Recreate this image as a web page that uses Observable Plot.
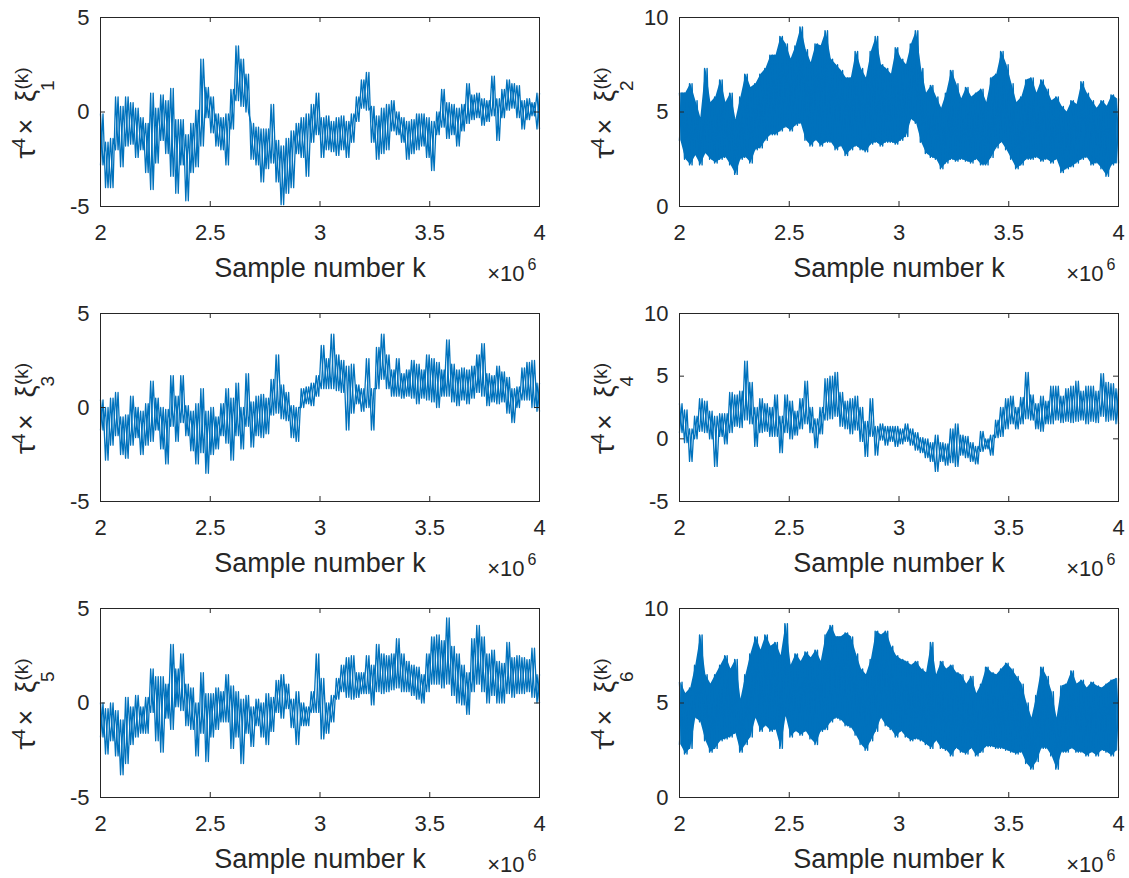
<!DOCTYPE html>
<html><head><meta charset="utf-8">
<script src="https://cdn.jsdelivr.net/npm/d3@7"></script>
<script src="https://cdn.jsdelivr.net/npm/@observablehq/plot@0.6"></script>
<style>
body{margin:0;background:#fff;}
#fig{position:relative;width:1129px;height:878px;background:#fff;}
#fig svg{position:absolute;}
</style></head><body><div id="fig"></div>
<script>
// Sample range (k) and tick values
const sampleStart = 2e6, sampleEnd = 4e6;
const xTicks = [2e6, 2.5e6, 3e6, 3.5e6, 4e6];
const xLabel = "Sample number k";
const xExponent = ["×10", "6"];

// Per-bin upper / lower extremes (88 bins from k=2e6 to 4e6)
const xi1Hi = [-0.1,-1.6,-1.4,0.8,0.3,0.8,0.5,0.2,-0.3,-0.6, 1.0,0.2,0.9,0.6,1.25,-0.4,-0.4,-1.2,-0.6,0.1, 2.8,1.3,0.8,-0.1,-0.3,-0.1,1.2,3.5,2.8,2.0, -0.6,-0.8,-0.9,-0.9,0.4,-1.5,-1.8,-1.4,-1.0,-0.6, -0.3,-0.1,0.4,1.0,-0.3,-0.2,-0.5,-0.3,-0.2,-0.5, -0.1,0.8,1.7,2.1,0.3,-0.2,0.2,0.4,0.6,0.0, -0.3,-0.5,-0.4,-0.1,-0.1,-0.3,-0.5,0.0,1.2,0.5, 0.4,0.2,0.4,1.5,0.9,1.0,0.7,0.6,1.9,0.7, 1.2,1.7,1.5,1.4,0.6,0.7,0.5,1.0];
const xi1Lo = [-2.8,-4.0,-4.0,-2.0,-2.9,-1.8,-1.7,-2.4,-2.0,-3.2, -4.1,-2.7,-1.5,-2.2,-3.4,-4.3,-2.8,-4.7,-3.2,-2.9, -1.8,-0.3,-1.1,-1.8,-2.0,-2.8,-0.9,0.6,0.3,0.0, -2.5,-2.8,-3.7,-3.0,-2.7,-3.7,-4.9,-4.3,-4.0,-2.2, -2.4,-3.4,-1.6,-1.2,-2.4,-2.0,-2.1,-2.3,-2.0,-2.4, -1.6,-0.5,0.2,0.1,-1.6,-2.5,-2.2,-2.0,-1.0,-1.2, -1.6,-2.5,-2.2,-2.0,-1.8,-2.4,-3.1,-1.2,-0.8,-1.4, -1.2,-1.8,-1.0,-0.6,-0.4,-0.3,-0.7,-0.5,-0.2,-1.5, -0.3,0.1,0.2,-0.3,-0.9,-0.4,-0.2,-0.9];

const xi2Hi = [6.0,6.0,6.5,5.6,4.7,7.3,5.5,5.8,6.7,5.5, 6.0,4.6,5.8,7.0,6.3,6.5,7.0,7.3,8.0,8.0, 9.0,8.6,7.8,8.5,9.5,8.3,7.6,8.6,8.5,9.3, 7.8,7.5,7.2,6.8,6.8,8.2,7.3,6.8,8.2,9.0, 7.5,7.3,7.0,8.4,7.8,7.5,8.6,9.3,7.3,6.0, 6.4,5.8,5.2,6.0,7.2,6.5,5.7,6.3,5.8,6.0, 6.2,5.5,6.8,7.0,8.2,7.5,6.5,5.5,5.8,6.7, 6.8,6.0,6.7,6.2,5.6,5.8,5.3,5.0,5.6,5.4, 6.6,6.0,5.6,5.2,5.6,5.3,5.9,5.7];
const xi2Lo = [3.5,2.5,2.2,2.7,2.2,2.8,2.5,2.3,2.5,2.6, 2.2,1.7,2.5,2.6,2.3,3.0,3.1,3.5,3.8,3.8, 4.0,4.2,4.0,4.3,4.4,3.5,3.2,3.5,3.2,3.4, 3.4,3.0,3.2,2.7,3.0,3.2,3.0,2.9,3.3,3.4, 3.2,3.4,3.4,3.3,3.5,3.7,4.6,4.4,3.4,2.8, 2.6,2.5,2.0,2.3,2.5,2.4,2.5,2.4,2.3,2.5, 2.2,2.2,2.6,3.1,3.4,3.0,2.5,2.0,2.2,2.5, 2.5,2.6,2.4,2.5,2.3,2.5,1.8,2.0,2.1,2.3, 2.5,2.6,2.2,2.3,2.0,1.6,2.2,2.3];

const xi3Hi = [0.4,0.0,0.5,0.8,-0.5,-0.4,0.6,0.0,-0.2,0.2, 1.4,0.5,0.0,-0.1,1.7,0.6,1.7,0.1,-0.2,0.2, 1.0,-0.2,0.0,-0.5,0.2,1.0,0.5,1.3,0.0,1.8, 0.3,0.6,0.7,0.5,1.5,2.8,1.2,0.8,0.1,0.0, 1.0,1.1,1.3,1.7,3.3,2.6,3.9,2.8,2.5,2.2, 2.3,1.2,1.0,2.6,1.0,3.2,3.9,2.8,2.0,2.6, 1.8,2.0,2.5,2.3,2.0,2.8,2.6,2.4,2.0,3.6, 2.3,2.0,2.1,2.0,2.2,2.8,3.4,1.8,1.7,2.2, 1.9,1.6,1.0,1.1,2.1,2.4,2.5,1.3];
const xi3Lo = [-1.2,-2.8,-2.0,-1.5,-2.5,-2.7,-2.0,-1.6,-2.5,-2.0, -1.8,-1.2,-2.2,-3.0,-1.0,-1.8,-0.8,-1.5,-2.3,-3.0, -2.4,-3.5,-2.5,-2.2,-1.5,-1.9,-2.8,-1.5,-2.2,-1.0, -2.1,-1.5,-1.6,-1.4,-0.4,-0.3,-0.6,-0.7,-1.6,-1.8, 0.0,0.2,0.1,0.6,1.0,1.0,1.0,0.9,0.8,-1.2, -0.3,0.2,-0.2,0.0,-1.2,1.0,1.5,1.0,0.6,0.6, 0.5,0.6,0.5,0.2,0.5,0.4,0.3,0.0,0.6,0.6, 0.3,0.1,0.4,0.2,0.5,0.8,0.6,0.1,0.3,0.2, 0.3,-0.3,-0.8,0.0,0.4,0.4,0.0,-0.2];

const xi4Hi = [2.8,2.3,0.8,1.8,3.2,3.0,2.2,1.8,2.0,2.0, 3.7,3.5,3.8,6.2,4.5,2.5,3.2,2.8,2.5,3.5, 1.8,3.5,3.0,2.2,3.2,4.6,2.5,1.6,2.5,4.8, 5.0,5.3,3.7,3.0,3.2,3.4,2.5,1.4,3.2,1.0, 1.2,1.0,1.0,1.0,0.8,1.2,0.8,0.5,0.1,0.0, -0.3,0.3,-0.3,-0.4,0.8,1.2,0.3,0.2,-0.3,-0.6, 0.6,0.0,0.3,1.5,2.5,3.2,3.4,2.5,3.3,5.3, 3.5,2.8,3.4,3.0,4.2,4.2,3.4,4.0,4.2,4.6, 3.8,4.2,4.2,3.8,5.2,4.5,4.4,4.0];
const xi4Lo = [0.5,-0.3,-1.8,0.0,0.6,0.5,0.0,-2.2,0.2,-0.4, 0.5,1.0,0.9,1.5,1.2,-0.6,0.5,0.6,0.2,0.2, -1.1,0.5,0.0,0.3,0.8,1.2,0.5,-0.7,0.4,1.5, 1.6,1.8,1.0,0.8,0.4,0.7,-0.2,-1.4,0.2,-1.3, -0.1,-0.5,-0.2,-0.6,-0.4,-0.2,-0.5,-0.9,-1.1,-1.5, -1.8,-2.6,-1.8,-2.1,-1.9,-2.2,-1.3,-1.5,-1.8,-2.0, -1.0,-0.8,-1.3,0.1,0.2,0.8,1.2,0.8,1.2,1.6, 1.5,0.8,0.6,1.2,1.2,1.5,1.3,1.4,1.3,1.4, 1.5,1.2,1.4,1.3,1.8,1.4,1.5,1.2];

const xi5Hi = [0.0,-0.3,0.0,-0.4,-0.9,0.3,-0.2,0.4,-0.2,0.3, 1.8,1.4,1.4,1.0,3.1,1.8,2.6,1.0,0.8,0.0, 1.6,0.5,0.5,0.8,0.6,1.5,0.9,0.6,0.2,0.4, -0.2,0.2,0.0,0.5,0.3,1.2,1.5,1.0,0.2,0.6, 0.0,-0.2,0.6,2.6,1.3,0.0,0.4,1.3,2.0,2.4, 2.5,1.6,1.6,2.5,2.0,3.1,2.6,2.5,2.6,3.4, 2.6,2.2,2.0,1.9,1.5,2.6,3.5,3.6,3.3,4.5, 3.0,2.6,2.0,1.6,3.4,4.1,3.5,2.6,2.8,2.2, 2.1,3.2,2.4,2.5,2.4,2.3,2.9,1.5];
const xi5Lo = [-1.8,-2.7,-2.0,-2.8,-3.8,-3.2,-2.2,-1.8,-1.6,-1.6, -0.5,-2.0,-2.6,-0.8,-1.4,-0.2,-0.4,-1.2,-1.4,-2.8, -1.6,-3.1,-1.8,-1.4,-1.0,-1.0,-2.4,-1.8,-3.2,-1.6, -2.3,-1.2,-1.8,-2.2,-1.5,-0.5,-0.8,-0.3,-1.3,-2.2, -1.2,-1.2,-0.5,-0.5,-1.9,-1.6,-1.0,0.2,0.6,0.3, 0.2,0.3,0.5,0.5,-0.1,0.6,0.5,0.6,0.7,0.8, 0.6,0.6,0.4,0.2,0.0,0.6,1.0,1.0,0.8,1.0, 0.4,0.0,-0.1,-0.6,0.6,1.0,0.6,0.0,0.4,0.0, 0.0,0.5,0.3,0.5,0.5,0.6,0.3,0.0];

const xi6Hi = [6.1,5.5,5.8,7.0,8.6,6.5,6.0,6.5,7.0,7.5, 6.8,7.3,5.2,6.5,7.6,8.5,7.8,8.6,8.0,8.2, 7.5,9.2,7.0,7.6,7.2,7.7,7.4,7.8,7.2,8.6, 9.1,8.5,8.5,8.7,8.5,7.6,6.8,6.5,7.3,8.8, 8.6,8.8,8.0,7.5,7.3,7.2,7.0,7.2,6.8,6.6, 8.2,6.5,7.2,6.8,7.0,6.6,6.5,6.0,6.4,5.5, 6.0,6.9,6.6,6.5,6.8,7.1,6.8,6.4,6.0,5.0, 4.2,5.4,6.9,6.4,5.6,4.2,5.9,6.0,6.7,6.0, 6.2,5.8,6.1,5.9,5.8,6.0,6.2,6.3];
const xi6Lo = [2.8,2.3,2.6,4.2,4.0,3.0,2.4,2.6,3.0,3.1, 3.2,3.4,2.4,2.8,3.2,4.2,3.5,3.8,3.5,3.6, 2.6,4.3,3.2,3.5,3.3,3.5,3.1,2.8,3.5,3.6, 4.0,4.2,4.1,3.8,3.7,3.3,2.8,2.5,3.0,3.5, 4.2,3.8,3.6,3.2,3.5,3.2,3.0,3.1,3.0,2.8, 2.6,3.0,2.6,2.5,2.2,2.6,2.4,2.3,2.6,2.2, 2.4,2.7,2.7,2.6,2.6,2.5,2.4,2.3,2.4,1.8, 1.5,1.9,2.6,2.6,2.2,1.5,2.4,2.4,2.6,2.4, 2.4,2.2,2.4,2.2,2.5,2.4,2.2,2.5];

const yDomains = [[-5,5],[0,10],[-5,5],[-5,10],[-5,5],[0,10]];
const yTicksList = [[-5,0,5],[0,5,10],[-5,0,5],[-5,0,5,10],[-5,0,5],[0,5,10]];
const subscripts = ["1","2","3","4","5","6"];
const highs = [xi1Hi, xi2Hi, xi3Hi, xi4Hi, xi5Hi, xi6Hi];
const lows  = [xi1Lo, xi2Lo, xi3Lo, xi4Lo, xi5Lo, xi6Lo];
const denseBand = [false, true, false, false, false, true];

// ---- layout (pixels) ----
const BLUE = "#0072BD", AXC = "#262626";
const FONT = "'Liberation Sans', Arial, Helvetica, sans-serif";
const colLeft = [0, 565], colWidth = [565, 564], colML = [100, 114], colMR = [26, 11];
const rowTop = [0, 295, 590], rowHeight = [295, 295, 288], rowMT = [17, 18, 18], rowFH = [189, 188, 189];
const FW = 439;

const fig = document.getElementById("fig");

for (let p = 0; p < 6; p++) {
  const r = Math.floor(p / 2), c = p % 2;
  const hi = highs[p], lo = lows[p], n = hi.length;
  const step = (sampleEnd - sampleStart) / (2 * n - 1);
  const ptsA = [], ptsB = [], band = [];
  for (let i = 0; i < n; i++) {
    ptsA.push({x: sampleStart + (2 * i) * step, y: lo[i]});
    ptsA.push({x: sampleStart + (2 * i + 1) * step, y: hi[i]});
    ptsB.push({x: sampleStart + (2 * i) * step, y: hi[i]});
    ptsB.push({x: sampleStart + (2 * i + 1) * step, y: lo[i]});
    band.push({x: sampleStart + (2 * i + 0.5) * step, lo: lo[i], hi: hi[i]});
  }
  const fh = rowFH[r];
  const yt = yTicksList[p];
  const mb = rowHeight[r] - rowMT[r] - fh;
  const yl = (dx, dy, size, txt) => Plot.text([txt], {text: d => d, frameAnchor: "left", rotate: -90, textAnchor: "start", lineAnchor: "bottom", dx, dy, fontSize: size, fill: AXC});
  const dense = denseBand[p];
  const chart = Plot.plot({
    width: colWidth[c], height: rowHeight[r],
    marginLeft: colML[c], marginRight: colMR[c], marginTop: rowMT[r], marginBottom: mb,
    style: {fontFamily: FONT, fontSize: "22px", color: AXC, background: "transparent", overflow: "visible"},
    x: {domain: [sampleStart, sampleEnd], axis: null},
    y: {domain: yDomains[p], axis: null},
    marks: [
      dense ? Plot.areaY(band, {x: "x", y1: "lo", y2: "hi", fill: BLUE}) : null,
      Plot.line(ptsA, {x: "x", y: "y", stroke: BLUE, strokeWidth: dense ? 1.4 : 1.3}),
      Plot.line(ptsB, {x: "x", y: "y", stroke: BLUE, strokeWidth: dense ? 1.4 : 1.3}),
      Plot.frame({stroke: AXC, strokeWidth: 1}),
      Plot.tickX(xTicks, {x: d => d, stroke: AXC, insetTop: fh - 5}),
      Plot.tickX(xTicks, {x: d => d, stroke: AXC, insetBottom: fh - 5}),
      Plot.tickY(yt, {y: d => d, stroke: AXC, insetRight: FW - 5}),
      Plot.tickY(yt, {y: d => d, stroke: AXC, insetLeft: FW - 5}),
      Plot.axisX({ticks: xTicks, tickSize: 0, tickPadding: 18, stroke: "none", fill: AXC, fontSize: 22, tickFormat: d => String(d / 1e6), label: null}),
      Plot.axisY({ticks: yt, tickSize: 0, tickPadding: 11, stroke: "none", fill: AXC, fontSize: 22, tickFormat: d => String(d), label: null}),
      Plot.text([xLabel], {text: d => d, frameAnchor: "bottom", lineAnchor: "bottom", dy: 70, fontSize: 27, fill: AXC}),
      Plot.text([xExponent[0]], {text: d => d, frameAnchor: "bottom-right", textAnchor: "end", lineAnchor: "bottom", dx: -15, dy: 74, fontSize: 22, fill: AXC}),
      Plot.text([xExponent[1]], {text: d => d, frameAnchor: "bottom-right", textAnchor: "end", lineAnchor: "bottom", dx: -3, dy: 63, fontSize: 16, fill: AXC}),
      yl(-66, 46.5, 27, "τ"),
      yl(-76, 36.5, 19, "4"),
      yl(-66, 22.5, 27, "×"),
      yl(-66, -10, 27, "ξ"),
      yl(-47, -21, 19, subscripts[p]),
      yl(-73, -22.5, 19, "(k)")
    ]
  });
  chart.style.left = colLeft[c] + "px";
  chart.style.top = rowTop[r] + "px";
  fig.appendChild(chart);
}
</script></body></html>
